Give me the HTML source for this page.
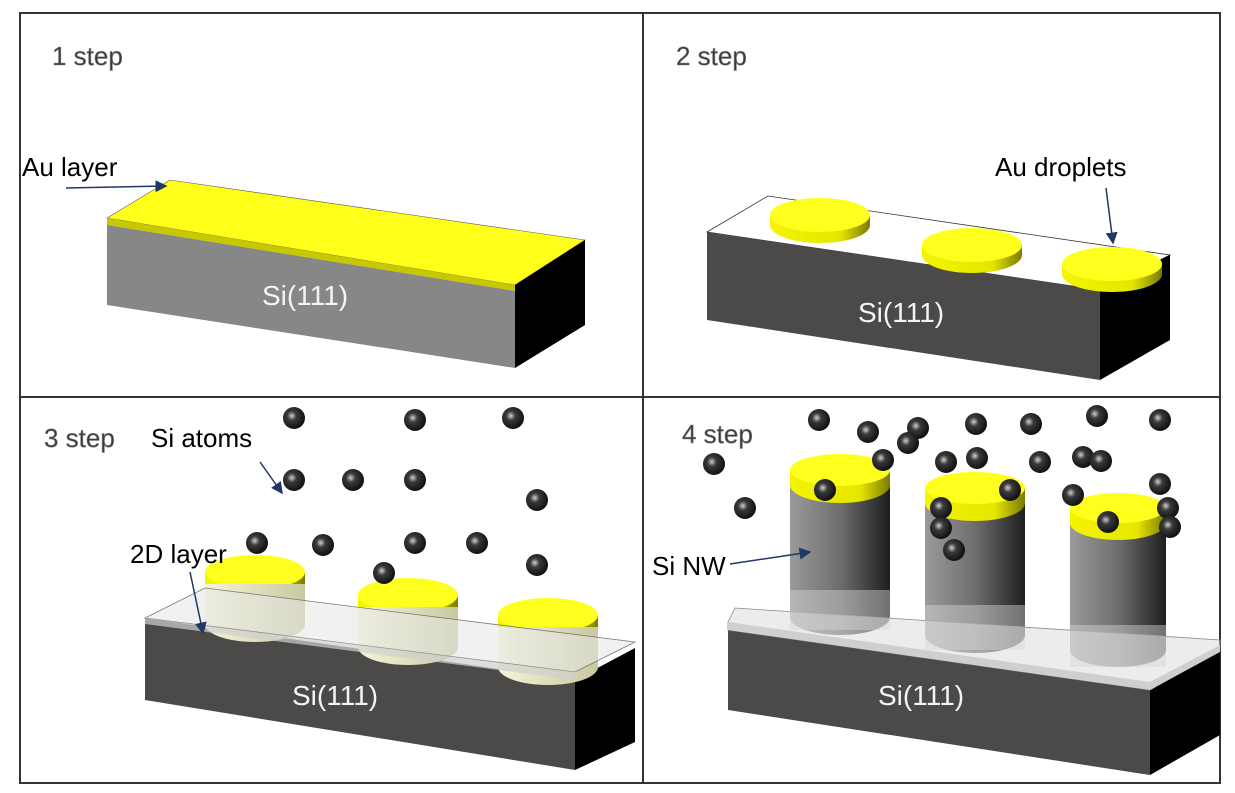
<!DOCTYPE html>
<html><head><meta charset="utf-8"><style>
html,body{margin:0;padding:0;background:#fff}
svg{display:block}
text{font-family:"Liberation Sans",sans-serif}
.st{font-size:26px;fill:#3a3a3a;stroke:#888;stroke-width:0.6px}
</style></head><body>
<svg width="1235" height="793" viewBox="0 0 1235 793" xmlns="http://www.w3.org/2000/svg">
<defs>
<radialGradient id="atom" cx="0.4" cy="0.4" r="0.6">
<stop offset="0" stop-color="#cfcfcf"/><stop offset="0.35" stop-color="#3a3a3a"/><stop offset="1" stop-color="#111"/>
</radialGradient>
<linearGradient id="cyl" x1="0" x2="1">
<stop offset="0" stop-color="#9a9a9a"/><stop offset="0.5" stop-color="#6e6e6e"/><stop offset="1" stop-color="#1e1e1e"/>
</linearGradient>
<linearGradient id="drop" x1="0" x2="1">
<stop offset="0" stop-color="#f4f400"/><stop offset="0.7" stop-color="#e6e600"/><stop offset="1" stop-color="#7a7a00"/>
</linearGradient>
<linearGradient id="ghost" x1="0" x2="1">
<stop offset="0" stop-color="#f5f5d8"/><stop offset="1" stop-color="#c8c8a0"/>
</linearGradient>
<marker id="ar" markerWidth="8" markerHeight="8" refX="7" refY="4" orient="auto"><path d="M0,0 L8,4 L0,8 z" fill="#1f3864"/></marker>
<g id="a"><circle r="11" fill="url(#atom)"/></g>
</defs>

<rect x="20" y="13" width="1200" height="770" fill="none" stroke="#333" stroke-width="2"/>
<line x1="643" y1="13" x2="643" y2="783" stroke="#333" stroke-width="2"/>
<line x1="20" y1="397" x2="1220" y2="397" stroke="#333" stroke-width="2"/>

<!-- Q1 -->
<text x="52" y="65" class="st">1 step</text>
<polygon points="107,218 170,180 585,240 515,285" fill="#ffff1a" stroke="#555" stroke-width="0.6"/>
<polygon points="107,218 515,285 515,291 107,225" fill="#c8c800"/>
<polygon points="107,225 515,291 515,368 107,305" fill="#878787"/>
<polygon points="515,285 585,240 585,325 515,368" fill="#000"/>
<text x="262" y="305" font-size="28" fill="#f4f4f4">Si(111)</text>
<text x="22" y="176" font-size="26" fill="#000">Au layer</text>
<line x1="66" y1="188" x2="166" y2="186" stroke="#1f3864" stroke-width="1.5" marker-end="url(#ar)"/>

<!-- Q2 -->
<text x="676" y="65" class="st">2 step</text>
<polygon points="707,232 768,196 1170,255 1100,290" fill="#fff" stroke="#333" stroke-width="0.8"/>
<polygon points="707,232 1100,290 1100,380 707,320" fill="#4b4a48"/>
<polygon points="1100,290 1170,255 1170,340 1100,380" fill="#000"/>
<g>
<path d="M770,215 v10 a50,18 0 0 0 100,0 v-10 z" fill="url(#drop)"/><ellipse cx="820" cy="215" rx="50" ry="17" fill="#ffff1e"/>
<path d="M922,245 v10 a50,18 0 0 0 100,0 v-10 z" fill="url(#drop)"/><ellipse cx="972" cy="245" rx="50" ry="17" fill="#ffff1e"/>
<path d="M1062,264 v10 a50,18 0 0 0 100,0 v-10 z" fill="url(#drop)"/><ellipse cx="1112" cy="264" rx="50" ry="17" fill="#ffff1e"/>
</g>
<text x="858" y="322" font-size="28" fill="#f4f4f4">Si(111)</text>
<text x="995" y="176" font-size="26" fill="#000">Au droplets</text>
<line x1="1106" y1="188" x2="1113" y2="243" stroke="#1f3864" stroke-width="1.5" marker-end="url(#ar)"/>

<!-- Q3 -->
<polygon points="145,618 575,680 575,770 145,700" fill="#4b4a48"/>
<polygon points="575,680 635,648 635,742 575,770" fill="#000"/>
<g>
<path d="M205,572 v12 a50,18 0 0 0 100,0 v-12 z" fill="url(#drop)"/><ellipse cx="255" cy="572" rx="50" ry="17" fill="#ffff1e"/>
<path d="M358,595 v12 a50,18 0 0 0 100,0 v-12 z" fill="url(#drop)"/><ellipse cx="408" cy="595" rx="50" ry="17" fill="#ffff1e"/>
<path d="M498,615 v12 a50,18 0 0 0 100,0 v-12 z" fill="url(#drop)"/><ellipse cx="548" cy="615" rx="50" ry="17" fill="#ffff1e"/>
</g>
<path d="M205,584 v40 a50,18 0 0 0 100,0 v-40 z" fill="url(#ghost)"/>
<path d="M358,607 v40 a50,18 0 0 0 100,0 v-40 z" fill="url(#ghost)"/>
<path d="M498,627 v40 a50,18 0 0 0 100,0 v-40 z" fill="url(#ghost)"/>
<polygon points="145,618 205,588 635,642 575,672" fill="#e6e6e6" fill-opacity="0.55" stroke="#777" stroke-width="0.8"/>
<polygon points="145,618 575,672 575,680 145,624" fill="#cfcfcf" fill-opacity="0.7"/>
<text x="292" y="705" font-size="28" fill="#f4f4f4">Si(111)</text>
<text x="44" y="447" class="st">3 step</text>
<text x="151" y="447" font-size="26" fill="#000">Si atoms</text>
<line x1="260" y1="462" x2="282" y2="493" stroke="#1f3864" stroke-width="1.5" marker-end="url(#ar)"/>
<text x="130" y="563" font-size="26" fill="#000">2D layer</text>
<line x1="190" y1="572" x2="203" y2="633" stroke="#1f3864" stroke-width="1.5" marker-end="url(#ar)"/>
<g>
<use href="#a" x="294" y="418"/><use href="#a" x="415" y="420"/><use href="#a" x="513" y="418"/>
<use href="#a" x="294" y="480"/><use href="#a" x="353" y="480"/><use href="#a" x="415" y="480"/><use href="#a" x="537" y="500"/>
<use href="#a" x="257" y="543"/><use href="#a" x="323" y="545"/><use href="#a" x="415" y="543"/><use href="#a" x="477" y="543"/><use href="#a" x="537" y="565"/><use href="#a" x="384" y="573"/>
</g>

<!-- Q4 -->
<polygon points="728,622 1150,690 1150,775 728,710" fill="#4b4a48"/>
<polygon points="1150,690 1220,650 1220,735 1150,775" fill="#000"/>
<g>
<path d="M790,482 v135 a50,18 0 0 0 100,0 v-135 z" fill="url(#cyl)"/>
<path d="M790,470 v15 a50,18 0 0 0 100,0 v-15 z" fill="url(#drop)"/><ellipse cx="840" cy="470" rx="50" ry="16" fill="#ffff1e"/>
<path d="M925,500 v135 a50,18 0 0 0 100,0 v-135 z" fill="url(#cyl)"/>
<path d="M925,488 v15 a50,18 0 0 0 100,0 v-15 z" fill="url(#drop)"/><ellipse cx="975" cy="488" rx="50" ry="16" fill="#ffff1e"/>
<path d="M1070,520 v130 a48,17 0 0 0 96,0 v-130 z" fill="url(#cyl)"/>
<path d="M1070,508 v15 a48,17 0 0 0 96,0 v-15 z" fill="url(#drop)"/><ellipse cx="1118" cy="508" rx="48" ry="15" fill="#ffff1e"/>
</g>
<polygon points="728,622 735,608 1220,640 1220,650 1150,690 728,630" fill="#ddd" fill-opacity="0.55" stroke="#888" stroke-width="0.8"/>
<rect x="790" y="590" width="100" height="40" fill="#d8d8d8" fill-opacity="0.45"/>
<rect x="925" y="605" width="100" height="45" fill="#d8d8d8" fill-opacity="0.45"/>
<rect x="1070" y="625" width="96" height="42" fill="#d8d8d8" fill-opacity="0.45"/>
<polygon points="728,622 1150,682 1220,645 1220,652 1150,690 728,630" fill="#cfcfcf"/>
<text x="878" y="705" font-size="28" fill="#f4f4f4">Si(111)</text>
<text x="682" y="443" class="st">4 step</text>
<text x="652" y="575" font-size="26" fill="#000">Si NW</text>
<line x1="730" y1="564" x2="810" y2="552" stroke="#1f3864" stroke-width="1.5" marker-end="url(#ar)"/>
<g>
<use href="#a" x="819" y="420"/><use href="#a" x="868" y="432"/><use href="#a" x="918" y="428"/><use href="#a" x="908" y="443"/>
<use href="#a" x="976" y="424"/><use href="#a" x="1031" y="424"/><use href="#a" x="1097" y="416"/><use href="#a" x="1160" y="420"/>
<use href="#a" x="714" y="464"/><use href="#a" x="883" y="460"/><use href="#a" x="946" y="462"/><use href="#a" x="977" y="458"/>
<use href="#a" x="1040" y="462"/><use href="#a" x="1083" y="457"/><use href="#a" x="1101" y="461"/>
<use href="#a" x="745" y="508"/><use href="#a" x="825" y="490"/><use href="#a" x="1010" y="490"/><use href="#a" x="1073" y="495"/>
<use href="#a" x="1160" y="484"/><use href="#a" x="941" y="508"/><use href="#a" x="941" y="528"/><use href="#a" x="954" y="550"/>
<use href="#a" x="1108" y="522"/><use href="#a" x="1168" y="508"/><use href="#a" x="1170" y="527"/>
</g>
</svg>
</body></html>
